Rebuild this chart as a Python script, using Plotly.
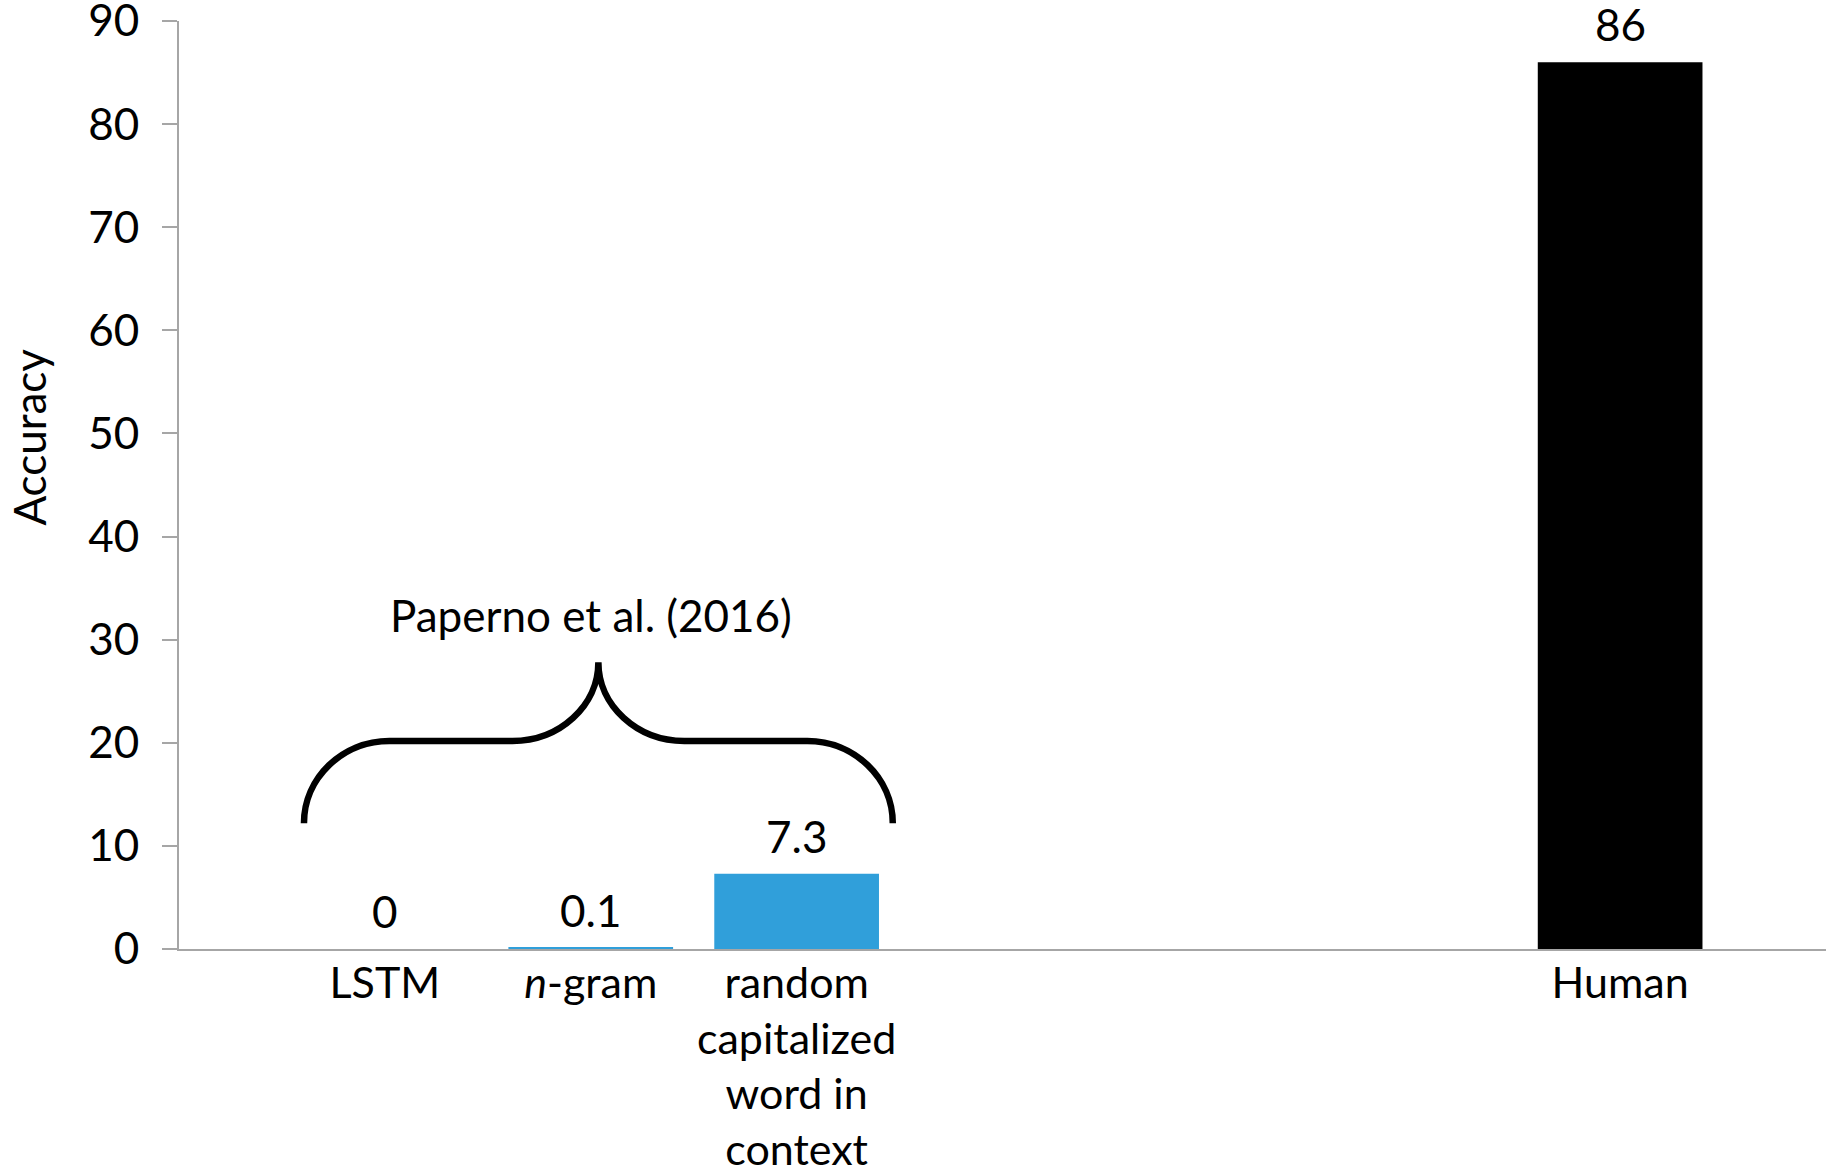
import plotly.graph_objects as go

# Accuracy per system
categories = [
    "LSTM",
    "<i>n</i>-gram",
    "random<br>capitalized<br>word in<br>context",
    "Human",
]
accuracy = [0, 0.1, 7.3, 86]
value_labels = ["0", "0.1", "7.3", "86"]
bar_colors = ["#309FDA", "#309FDA", "#309FDA", "#000000"]

# empty slots that separate the model group from the human score
spacers = [" ", "  ", "   "]
y_ticks = [0, 10, 20, 30, 40, 50, 60, 70, 80, 90]

group_label = "Paperno et al. (2016)"

FONT = "Lato"
AXIS_GREY = "#A6A6A6"
FS = 44

category_order = categories[:3] + spacers + categories[3:]

fig = go.Figure()
fig.add_trace(
    go.Bar(
        x=categories,
        y=accuracy,
        marker=dict(color=bar_colors, line=dict(width=0)),
        width=0.8,
        hoverinfo="x+y",
        showlegend=False,
    )
)

# value labels above each bar
for cat, val, lab in zip(categories, accuracy, value_labels):
    fig.add_annotation(
        x=cat, y=val, xref="x", yref="y",
        text=lab, showarrow=False,
        yanchor="middle", yshift=38,
        font=dict(family=FONT, size=FS, color="black"),
    )


def brace_path(x0, x1, y_end, y_bar, y_tip):
    """Curly brace opening downward, spanning x0..x1 in axis units."""
    xm = (x0 + x1) / 2
    w = x1 - x0
    r = w * 0.145          # horizontal reach of the outer curls
    rm = w * 0.146         # horizontal reach of the central curls
    k = 0.55
    hs = x0 + r
    he = xm - rm
    rs = xm + rm
    re_ = x1 - r
    return (
        f"M {x0},{y_end} "
        f"C {x0},{y_end + k * (y_bar - y_end)} {hs - k * r},{y_bar} {hs},{y_bar} "
        f"L {he},{y_bar} "
        f"C {he + k * rm},{y_bar} {xm},{y_tip - k * (y_tip - y_bar)} {xm},{y_tip} "
        f"C {xm},{y_tip - k * (y_tip - y_bar)} {rs - k * rm},{y_bar} {rs},{y_bar} "
        f"L {re_},{y_bar} "
        f"C {re_ + k * r},{y_bar} {x1},{y_end + k * (y_bar - y_end)} {x1},{y_end}"
    )


fig.add_shape(
    type="path",
    xref="x", yref="y",
    path=brace_path(-0.393, 2.467, 12.2, 20.17, 27.8),
    line=dict(color="black", width=6.5),
    layer="above",
)

fig.add_annotation(
    x=1.0, y=32.4, xref="x", yref="y",
    text=group_label, showarrow=False,
    font=dict(family=FONT, size=FS, color="black"),
)

# y-axis title
fig.add_annotation(
    x=0, y=49.6, xref="paper", yref="y",
    xshift=-150, text="Accuracy", textangle=-90,
    showarrow=False, xanchor="center", yanchor="middle",
    font=dict(family=FONT, size=FS, color="black"),
)

fig.update_layout(
    width=1831, height=1172,
    margin=dict(l=179, r=5, t=21, b=223),
    paper_bgcolor="white", plot_bgcolor="white",
    font=dict(family=FONT, size=FS, color="black"),
    bargap=0.2,
)

fig.update_xaxes(
    type="category",
    categoryorder="array",
    categoryarray=category_order,
    range=[-1, 7],
    automargin=False,
    showline=True, linecolor=AXIS_GREY, linewidth=2,
    ticks="", showgrid=False, zeroline=False,
    tickfont=dict(family=FONT, size=43, color="black"),
    ticklabelstandoff=-5,
    ticklabeloverflow="allow",
)

fig.update_yaxes(
    range=[0, 90],
    tickvals=y_ticks,
    automargin=False,
    showline=True, linecolor=AXIS_GREY, linewidth=2,
    ticks="outside", ticklen=15, tickwidth=2, tickcolor=AXIS_GREY,
    showgrid=False, zeroline=False,
    tickfont=dict(family=FONT, size=FS, color="black"),
    ticklabelstandoff=14,
    ticklabeloverflow="allow",
)

fig.write_html("out.html")
